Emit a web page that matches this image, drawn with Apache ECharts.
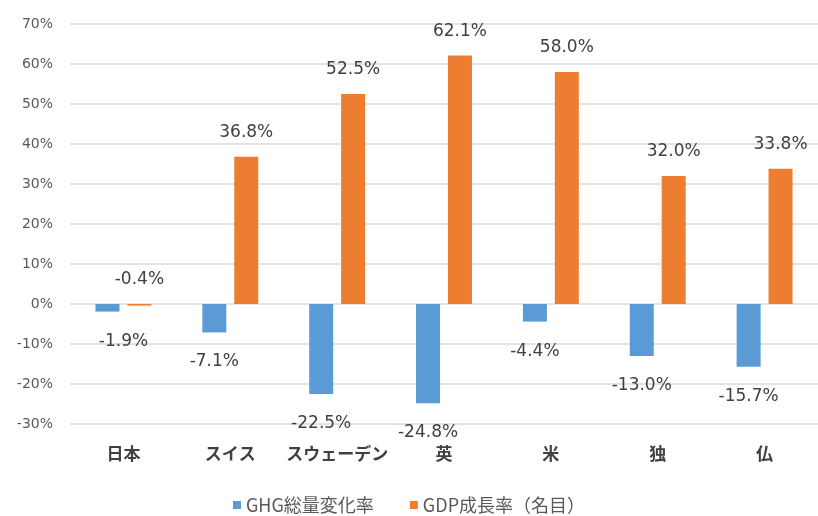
<!DOCTYPE html>
<html><head><meta charset="utf-8">
<script src="https://cdn.jsdelivr.net/npm/echarts@6/dist/echarts.min.js"></script>
<style>html,body{margin:0;padding:0;background:#fff;overflow:hidden}#c{width:818px;height:516px}</style>
</head><body><div id="c"></div>
<script>
const categories = ['日本', 'スイス', 'スウェーデン', '英', '米', '独', '仏'];
const ghgChange = [-1.9, -7.1, -22.5, -24.8, -4.4, -13.0, -15.7];
const gdpGrowth = [-0.4, 36.8, 52.5, 62.1, 58.0, 32.0, 33.8];
const seriesNames = ['GHG総量変化率', 'GDP成長率（名目）'];
const yTicks = { min: -30, max: 70, interval: 10 };

const CJK = '"Noto Sans CJK JP", "Noto Sans", sans-serif';
const NUM = '"DejaVu Sans", "Noto Sans", sans-serif';
const chart = echarts.init(document.getElementById('c'));
const fmt = v => v.toFixed(1) + '%';

chart.setOption({
  animation: false,
  textStyle: { fontFamily: CJK },
  grid: { left: 70, right: -7, top: 24, bottom: 92, containLabel: false },
  legend: {
    top: 491, left: 'center', itemWidth: 8, itemHeight: 8, itemGap: 36,
    icon: 'rect',
    textStyle: { fontSize: 18, color: '#595959', fontFamily: CJK },
    data: seriesNames
  },
  xAxis: {
    type: 'category', data: categories,
    axisLine: { show: false, onZero: false }, axisTick: { show: false },
    axisLabel: { interval: 0, margin: 21, fontSize: 17, fontWeight: 'bold', color: '#404040', fontFamily: CJK }
  },
  yAxis: {
    type: 'value', min: yTicks.min, max: yTicks.max, interval: yTicks.interval,
    axisLine: { show: false }, axisTick: { show: false },
    axisLabel: { margin: 17, fontSize: 14, color: '#595959', formatter: v => v + '%', fontFamily: NUM },
    splitLine: { lineStyle: { color: '#E3E3E3', width: 2 } }
  },
  series: [
    {
      name: seriesNames[0], type: 'bar', barWidth: 24, barGap: '33%',
      itemStyle: { color: '#5B9BD5' },
      data: ghgChange.map((v, i) => i === 0 ? { value: v, label: { offset: [16, 0] } } : v),
      label: { show: true, position: 'bottom', distance: 21, fontSize: 17, color: '#404040',
               formatter: p => fmt(p.value), fontFamily: NUM }
    },
    {
      name: seriesNames[1], type: 'bar', barWidth: 24, barGap: '33%',
      itemStyle: { color: '#ED7D31' },
      data: gdpGrowth,
      label: { show: true, position: 'top', distance: 16, fontSize: 17, color: '#404040',
               formatter: p => fmt(p.value), fontFamily: NUM }
    }
  ]
});
</script></body></html>
